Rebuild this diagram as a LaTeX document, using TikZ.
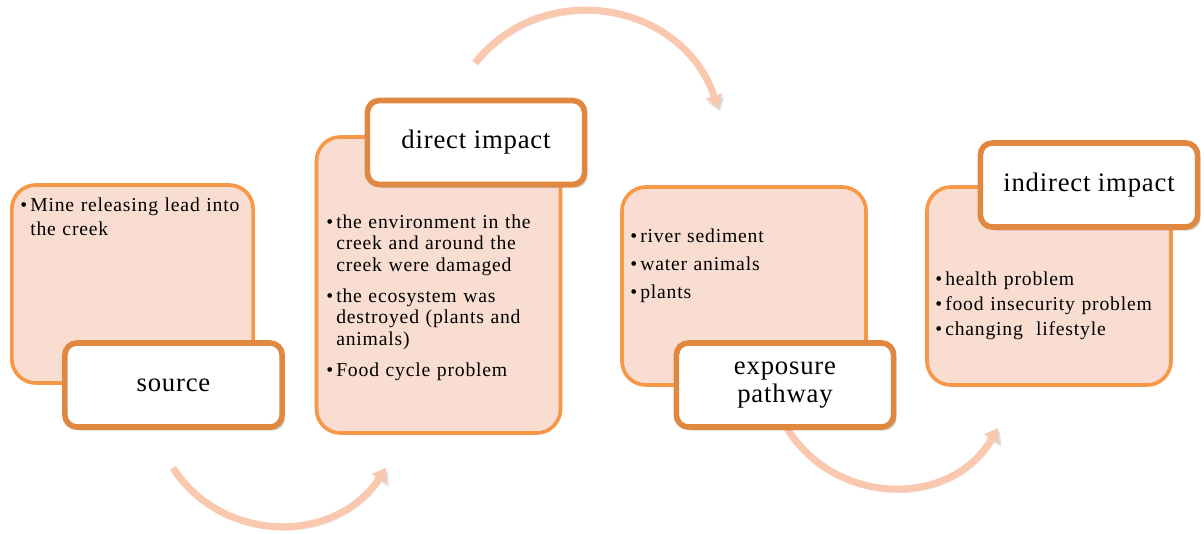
\documentclass[tikz,border=0pt]{standalone}
\usepackage{fontspec}
\setmainfont{Liberation Serif}
\usetikzlibrary{positioning, arrows.meta, shadows}

\definecolor{panelfill}{RGB}{249,221,209}
\definecolor{panelline}{RGB}{247,152,72}
\definecolor{tagline}{RGB}{224,136,64}
\definecolor{flowcol}{RGB}{250,200,174}

% bullet line with hanging indent
\newcommand{\bul}[1]{\par\hangindent=0.25cm\hangafter=1\noindent\makebox[0.25cm][l]{\textbullet}#1\par}

\begin{document}
\begin{tikzpicture}[
    x=0.025cm, y=0.025cm,
    panel/.style={draw=panelline, line width=2.6pt, fill=panelfill, rounded corners=0.6cm},
    tag/.style={draw=tagline, line width=4pt, fill=white, rounded corners=0.3cm,
        minimum width=5.43cm, minimum height=2.1cm, align=center,
        font=\fontsize{19}{22}\selectfont\addfontfeature{LetterSpace=3},
        drop shadow={shadow xshift=2pt, shadow yshift=-2.5pt, opacity=0.35}},
    items/.style={inner sep=0pt, anchor=north west, text width=6cm, align=left,
        font=\fontsize{14}{17}\selectfont\addfontfeature{LetterSpace=4}},
    flow/.style={draw=flowcol, line width=5pt, -{Triangle[width=12pt, length=9pt]},
        preaction={draw=black!30, opacity=0.35, transform canvas={xshift=1.5pt, yshift=-2.5pt}}},
]
\useasboundingbox (0,0) rectangle (1204,-533);

% Panels
\node[panel, minimum width=6.03cm, minimum height=4.95cm] (srcpanel) at (132.5,-284) {};
\node[panel, minimum width=6.1cm, minimum height=7.4cm] (dirpanel) at (438.5,-285) {};
\node[panel, minimum width=6.1cm, minimum height=4.95cm] (exppanel) at (744,-286) {};
\node[panel, minimum width=6.1cm, minimum height=4.95cm] (indpanel) at (1049,-286) {};

% Curved arrows between the stages
\coordinate (f1a) at (173,-468);
\coordinate (f1b) at (386,-468);
\coordinate (f2a) at (475,-63);
\coordinate (f2b) at (718,-108);
\coordinate (f3a) at (785,-425);
\coordinate (f3b) at (998,-428);
\draw[flow] (f1a) to[out=-57, in=-123, looseness=1.1] (f1b);
\draw[flow] (f2a) to[out=51.5, in=108.4, looseness=1.15] (f2b);
\draw[flow] (f3a) to[out=-60, in=-120, looseness=1.13] (f3b);

% Titles
\node[tag] (srctag) at (173.5,-385) {source};
\node[tag] (dirtag) at (476,-142.5) {direct impact};
\node[tag] (exptag) at (785,-385) {exposure\\[-2pt]pathway};
\node[tag] (indtag) at (1089,-185) {indirect impact};

% Bullet texts
\node[items] (srctext) at (20,-187) {\bul{Mine releasing lead into\newline the creek}};
\node[items, font=\fontsize{14}{15.2}\selectfont\addfontfeature{LetterSpace=4}] (dirtext) at (326,-197) {\setlength{\parskip}{7pt}%
    \bul{the environment in the\newline creek and around the\newline creek were damaged}
    \bul{the ecosystem was\newline destroyed (plants and\newline animals)}
    \bul{Food cycle problem}};
\node[items] (exptext) at (630,-214) {\setlength{\parskip}{3pt}%
    \bul{river sediment}
    \bul{water animals}
    \bul{plants}};
\node[items, font=\fontsize{14}{17.5}\selectfont\addfontfeature{LetterSpace=4}] (indtext) at (935,-261) {%
    \bul{health problem}
    \bul{food insecurity problem}
    \bul{changing\ \ lifestyle}};

\end{tikzpicture}
\end{document}
